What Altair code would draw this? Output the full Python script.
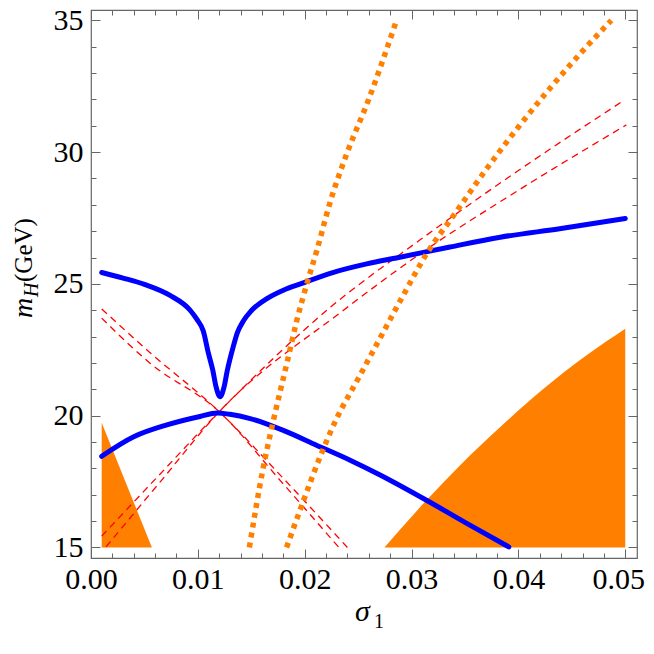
import altair as alt
import pandas as pd

# ---------------- data ----------------
blue_upper_x = [0.001, 0.0030, 0.0050, 0.0074, 0.0093, 0.0099, 0.0105, 0.0110, 0.0114, 0.0117, 0.01208,
                0.01245, 0.01276, 0.0133, 0.0137, 0.0143, 0.0150, 0.0165, 0.0180, 0.0196, 0.0227,
                0.0258, 0.0289, 0.0336, 0.0383, 0.0440, 0.0500]
blue_upper_y = [25.43, 25.22, 24.98, 24.56, 23.99, 23.66, 23.22, 22.35, 21.72, 21.1, 20.72,
                21.08, 21.72, 22.6, 23.15, 23.62, 23.98, 24.45, 24.76, 25.0, 25.44,
                25.76, 26.01, 26.4, 26.77, 27.1, 27.48]

blue_lower_x = [0.001, 0.004, 0.0071, 0.0102, 0.0118, 0.0130, 0.0149, 0.018, 0.0211, 0.0243,
                0.0271, 0.0314, 0.0350, 0.0391]
blue_lower_y = [18.46, 19.2, 19.65, 19.97, 20.1, 20.05, 19.89, 19.44, 18.88, 18.3,
                17.74, 16.79, 15.95, 15.02]

red1_x = [0.001, 0.0062, 0.012, 0.0224, 0.0308, 0.0400, 0.0498]
red1_y = [15.43, 17.67, 20.15, 24.11, 26.67, 29.3, 31.94]
red2_x = [0.0014, 0.0065, 0.012, 0.0236, 0.0308, 0.0400, 0.0501]
red2_y = [15.02, 17.5, 20.15, 23.99, 26.14, 28.55, 31.03]
red3_x = [0.001, 0.0055, 0.012, 0.018, 0.0240]
red3_y = [24.05, 22.4, 20.15, 17.62, 15.0]
red4_x = [0.001, 0.0055, 0.012, 0.0178, 0.0232]
red4_y = [23.7, 22.0, 20.15, 17.5, 15.0]

orange1_x = [0.01482, 0.01613, 0.01707, 0.01832, 0.01926, 0.0202, 0.02113, 0.02238, 0.02394,
             0.02594, 0.0286]
orange1_y = [15.0, 18.05, 19.82, 21.97, 23.61, 25.0, 26.26, 28.1, 29.94, 31.95, 35.0]
orange2_x = [0.0183, 0.0199, 0.0214, 0.0230, 0.0250, 0.0270, 0.0290, 0.0315, 0.0340, 0.0370,
             0.0400, 0.0430, 0.0460, 0.0487]
orange2_y = [15.0, 16.79, 18.4, 19.9, 21.4, 22.9, 24.4, 26.2, 27.63, 29.35, 30.95, 32.44,
             33.83, 35.0]

region_left_x = [0.001, 0.0057]
region_left_y = [19.73, 15.0]
region_right_x = [0.02746, 0.0314, 0.03455, 0.0383, 0.04235, 0.04641, 0.0500]
region_right_y = [15.0, 16.79, 18.12, 19.57, 21.02, 22.3, 23.3]
region_base = 15.0

x_major = [0.0, 0.01, 0.02, 0.03, 0.04, 0.05]
x_minor = [round(0.002 * i, 3) for i in range(26)]
y_major = [15, 20, 25, 30, 35]
y_minor = list(range(15, 36))

X_DOMAIN = [0.0, 0.0511]
Y_DOMAIN = [14.6, 35.39]

FONT = "Liberation Serif"
ORANGE = "#FF8000"
FRAME = "#666666"


def frame(names_xs_ys):
    rows = []
    for name, xs_, ys_ in names_xs_ys:
        for i, (a, b) in enumerate(zip(xs_, ys_)):
            rows.append({"curve": name, "x": a, "y": b, "o": i, "y0": region_base})
    return pd.DataFrame(rows)


xs = alt.Scale(domain=X_DOMAIN, nice=False, zero=False)
ys = alt.Scale(domain=Y_DOMAIN, nice=False, zero=False)


def enc(chart, xaxis=None, yaxis=None, **kw):
    return chart.encode(x=alt.X("x:Q", scale=xs, axis=xaxis),
                        y=alt.Y("y:Q", scale=ys, axis=yaxis), **kw)


areas_left = enc(alt.Chart(frame([("l", region_left_x, region_left_y)])).mark_area(
    color=ORANGE, opacity=1), y2="y0:Q")
areas_right = enc(alt.Chart(frame([("r", region_right_x, region_right_y)])).mark_area(
    color=ORANGE, opacity=1, interpolate="monotone"), y2="y0:Q")

red = enc(alt.Chart(frame([("r1", red1_x, red1_y), ("r2", red2_x, red2_y),
                           ("r3", red3_x, red3_y), ("r4", red4_x, red4_y)])).mark_line(
    color="#FF0000", strokeWidth=1.3, strokeDash=[7, 5], interpolate="monotone"),
    detail="curve:N", order="o:Q")

blue = enc(alt.Chart(frame([("bu", blue_upper_x, blue_upper_y),
                            ("bl", blue_lower_x, blue_lower_y)])).mark_line(
    color="#0000FF", strokeWidth=5, strokeCap="round", strokeJoin="round",
    interpolate="monotone"),
    detail="curve:N", order="o:Q")

orange = enc(alt.Chart(frame([("o1", orange1_x, orange1_y),
                              ("o2", orange2_x, orange2_y)])).mark_line(
    color=ORANGE, strokeWidth=5.5, strokeDash=[5, 5], strokeCap="butt",
    interpolate="monotone"),
    detail="curve:N", order="o:Q")

dummy = pd.DataFrame({"x": [0.01], "y": [20.0]})


def ax(orient, values, labels=False, size=0, **kw):
    base = dict(orient=orient, values=values, domain=False, grid=False, title=None,
                tickColor=FRAME, tickWidth=1)
    if labels:
        base.update(labels=True, ticks=False, labelFont=FONT, labelFontSize=30,
                    labelColor="black", labelFlush=False, labelOverlap=False)
    else:
        base.update(labels=False, ticks=True, tickSize=size, offset=-size)
    base.update(kw)
    return alt.Axis(**base)


def axis_layer(xaxis=None, yaxis=None):
    return enc(alt.Chart(dummy).mark_point(opacity=0), xaxis=xaxis, yaxis=yaxis)


axis_layers = [
    axis_layer(xaxis=ax("bottom", x_major, labels=True, format=".2f", labelPadding=6,
                        labelOffset={"expr": "datum.value > 0.045 ? -7 : 0"})),
    axis_layer(xaxis=ax("bottom", x_major, size=9)),
    axis_layer(xaxis=ax("bottom", x_minor, size=5)),
    axis_layer(xaxis=ax("top", x_major, size=9)),
    axis_layer(xaxis=ax("top", x_minor, size=5)),
    axis_layer(yaxis=ax("left", y_major, labels=True, format="d", labelPadding=8)),
    axis_layer(yaxis=ax("left", y_major, size=9)),
    axis_layer(yaxis=ax("left", y_minor, size=5)),
    axis_layer(yaxis=ax("right", y_major, size=9)),
    axis_layer(yaxis=ax("right", y_minor, size=5)),
]


def label(text, x, y, size=30, style="normal", angle=0, align="left"):
    return alt.Chart(dummy).mark_text(
        text=text, font=FONT, fontSize=size, fontStyle=style, angle=angle,
        align=align, baseline="alphabetic", color="black").encode(
        x=alt.value(x), y=alt.value(y))


titles = [
    label("σ", 264, 611, size=30, style="italic"),
    label("1", 283, 618, size=20),
    label("m", -59, 308, size=28, style="italic", angle=270),
    label("H", -53, 287, size=20, style="italic", angle=270),
    label("(GeV)", -59, 272, size=25, angle=270),
]

chart = alt.layer(areas_left, areas_right, red, blue, orange, *axis_layers, *titles).resolve_axis(
    x="independent", y="independent"
).properties(
    width=546, height=548,
    autosize=alt.AutoSizeParams(type="none"),
    padding={"left": 83, "top": 2, "right": 8, "bottom": 80},
).configure_view(stroke=FRAME, strokeWidth=1.2)

chart.save("out.html", embed_options={"renderer": "svg", "actions": False})
